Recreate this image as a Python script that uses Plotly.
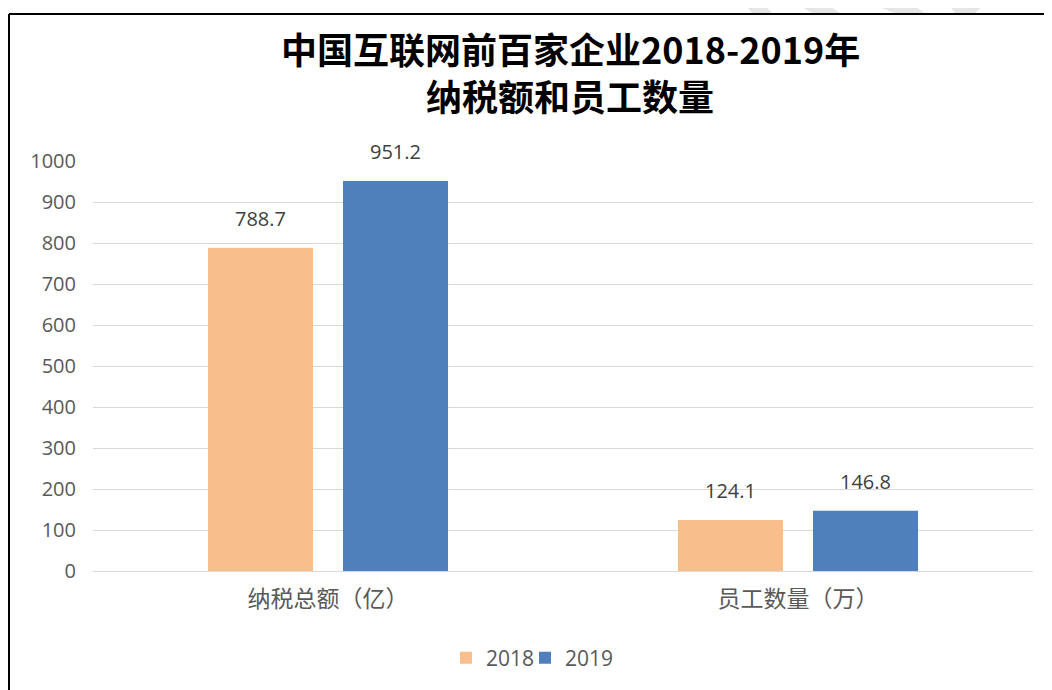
import plotly.graph_objects as go

# ---- data ----
categories = ["纳税总额（亿）", "员工数量（万）"]
series_names = ["2018", "2019"]
values_2018 = [788.7, 124.1]
values_2019 = [951.2, 146.8]
series_values = [values_2018, values_2019]
colors = ["#F8BE8C", "#4F80BC"]
y_ticks = [0, 100, 200, 300, 400, 500, 600, 700, 800, 900, 1000]

OFF = 8  # page body margin
W, H = 1052 - OFF, 690 - OFF
# plot area in screen pixels: x 93..1033, y 161..571
ML = 93 - OFF
MR = W - (1033 - OFF)
MT = 161 - OFF
MB = H - (571 - OFF)
PW, PH = W - ML - MR, H - MT - MB

bargap = 0.4255
bargroupgap = 0.222

def px_x(sx):
    return (sx - OFF - ML) / PW

def px_y(sy):
    return 1 - (sy - OFF - MT) / PH

legend_ids = ["legend", "legend2"]
legend_left = [446, 525]

fig = go.Figure()
for name, vals, col, lg in zip(series_names, series_values, colors, legend_ids):
    fig.add_trace(go.Bar(
        name=name, x=categories, y=vals, marker=dict(color=col, line=dict(width=0)),
        hoverinfo="x+y", legend=lg,
    ))

# value labels computed from data & group layout
n = len(series_names)
slot = (1 - bargap) / n
annotations = []
for j, vals in enumerate(series_values):
    for i, v in enumerate(vals):
        annotations.append(dict(
            x=i + (j - (n - 1) / 2) * slot, y=v, xref="x", yref="y",
            text=f"{v:.1f}", showarrow=False, yanchor="bottom", yshift=14,
            font=dict(family="Open Sans, Noto Sans CJK SC", size=20, color="#404040"),
        ))

title_lines = ["中国互联网前百家企业2018-2019年", "纳税额和员工数量"]
title_centers = [48, 95]
for line, cy in zip(title_lines, title_centers):
    annotations.append(dict(
        text=line, xref="paper", yref="paper", x=px_x(570), y=px_y(cy),
        xanchor="center", yanchor="middle", showarrow=False, borderpad=0,
        font=dict(family="Noto Sans CJK SC", size=36, color="#000000", weight=700),
    ))

shapes = []
# frame border
shapes.append(dict(type="line", xref="paper", yref="paper",
                   x0=px_x(9), x1=px_x(1060), y0=px_y(14), y1=px_y(14),
                   line=dict(color="#000000", width=2)))
shapes.append(dict(type="line", xref="paper", yref="paper",
                   x0=px_x(9), x1=px_x(9), y0=px_y(14), y1=px_y(700),
                   line=dict(color="#000000", width=2)))
# faint watermark fragments above the frame
wm = [
    [(742, 0), (760, 0), (772, 13), (752, 13)],
    [(790, 0), (820, 0), (840, 13), (812, 13)],
    [(860, 0), (905, 0), (925, 13), (895, 13)],
    [(945, 0), (990, 0), (975, 13), (955, 13)],
]
for poly in wm:
    path = "M " + " L ".join(f"{px_x(x)},{px_y(y)}" for x, y in poly) + " Z"
    shapes.append(dict(type="path", xref="paper", yref="paper", path=path,
                       fillcolor="#E6E6E6", line=dict(width=0), layer="below"))

legend_style = dict(orientation="h", xanchor="left", yanchor="middle",
                    font=dict(family="Open Sans, Noto Sans CJK SC", size=21, color="#595959"),
                    itemwidth=30, bgcolor="rgba(0,0,0,0)")

fig.update_layout(
    width=W, height=H,
    margin=dict(l=ML, r=MR, t=MT, b=MB, autoexpand=False),
    paper_bgcolor="#FFFFFF", plot_bgcolor="#FFFFFF",
    barmode="group", bargap=bargap, bargroupgap=bargroupgap,
    showlegend=True,
    legend=dict(x=px_x(legend_left[0]), y=px_y(658), **legend_style),
    legend2=dict(x=px_x(legend_left[1]), y=px_y(658), **legend_style),
    annotations=annotations,
    shapes=shapes,
    font=dict(family="Noto Sans CJK SC"),
)
fig.update_xaxes(
    type="category", showgrid=False, zeroline=False, showline=False, ticks="",
    tickfont=dict(family="Noto Sans CJK SC", size=23, color="#595959"),
    ticklabelstandoff=12, automargin=False,
)
fig.update_yaxes(
    range=[0, 1000], tickvals=y_ticks, showgrid=True, gridcolor="#D9D9D9", gridwidth=1,
    zeroline=True, zerolinecolor="#D9D9D9", zerolinewidth=1, showline=False, ticks="",
    tickfont=dict(family="Open Sans, Noto Sans CJK SC", size=20, color="#595959"),
    ticklabelstandoff=16, automargin=False,
)

fig.write_html("out.html")
